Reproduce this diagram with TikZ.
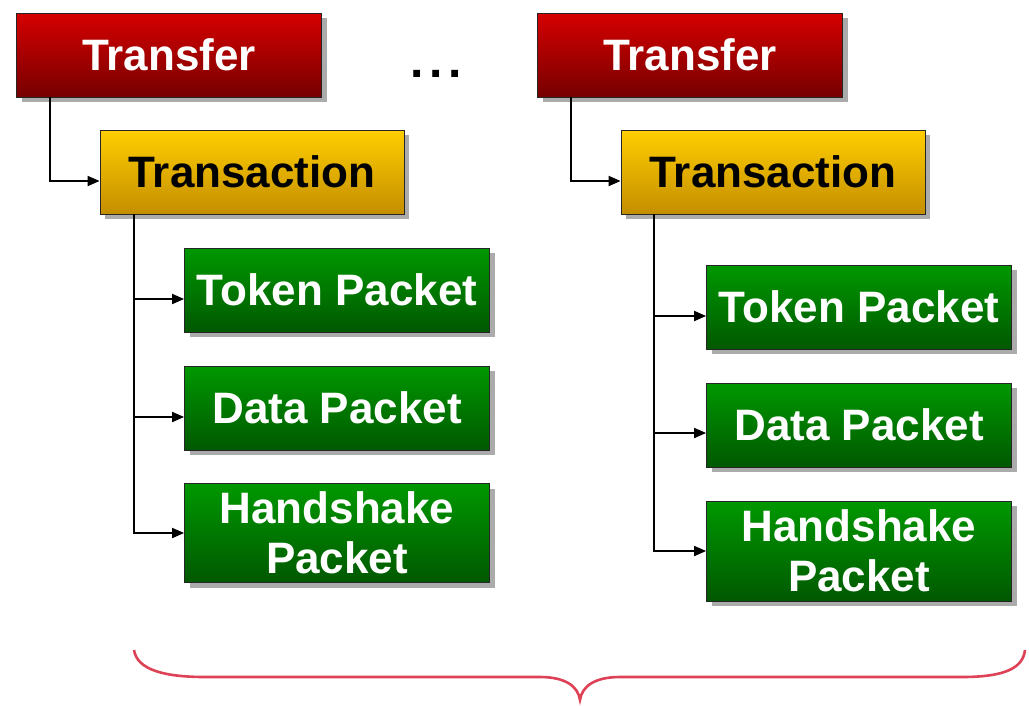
\documentclass[tikz,border=0pt]{standalone}
\usepackage{fontspec}
\setmainfont{Liberation Sans}
\usetikzlibrary{arrows.meta,shadows}
\definecolor{redtop}{RGB}{214,0,0}
\definecolor{redbot}{RGB}{118,0,0}
\definecolor{goldtop}{RGB}{255,206,0}
\definecolor{goldbot}{RGB}{196,142,0}
\definecolor{greentop}{RGB}{0,152,0}
\definecolor{greenbot}{RGB}{0,88,0}
\definecolor{bracered}{RGB}{222,66,86}
\begin{document}
\begin{tikzpicture}[x=1pt,y=-1pt,
	box/.style={draw=black!85,line width=0.8pt,inner sep=0pt,minimum height=84pt,
		font=\fontsize{44}{50}\selectfont\bfseries,
		drop shadow={shadow xshift=5pt,shadow yshift=-5pt,fill=black!55,opacity=0.6}},
	transfer/.style={box,minimum width=305pt,top color=redtop,bottom color=redbot,text=white},
	transaction/.style={box,minimum width=304pt,top color=goldtop,bottom color=goldbot,text=black},
	packet/.style={box,minimum width=305pt,top color=greentop,bottom color=greenbot,text=white,align=center},
	link/.style={line width=1.8pt,-{Triangle[length=12pt,width=10pt]}}]
	\useasboundingbox (0,0) rectangle (1029,705);
	\path
	(169,55) coordinate (tf1)
	(252,172) coordinate (ta1)
	(337,290) coordinate (tk1)
	(337,408) coordinate (dp1)
	(337,533) coordinate (hs1)
	(690,55) coordinate (tf2)
	(773,172) coordinate (ta2)
	(859,307) coordinate (tk2)
	(859,425) coordinate (dp2)
	(859,551) coordinate (hs2)
	;
	\node[transfer] (transfer1) at (tf1) {Transfer};
	\node[transaction] (transaction1) at (ta1) {Transaction};
	\node[packet] (token1) at (tk1) {Token Packet};
	\node[packet] (data1) at (dp1) {Data Packet};
	\node[packet,minimum height=99pt] (hand1) at (hs1) {Handshake\\Packet};
	\node[transfer] (transfer2) at (tf2) {Transfer};
	\node[transaction] (transaction2) at (ta2) {Transaction};
	\node[packet] (token2) at (tk2) {Token Packet};
	\node[packet] (data2) at (dp2) {Data Packet};
	\node[packet,minimum height=100pt] (hand2) at (hs2) {Handshake\\Packet};
	\node[anchor=base,font=\fontsize{48}{50}\selectfont\bfseries] (more) at (436,77) {.\hspace{6pt}.\hspace{6pt}.};
	\draw[link] ([xshift=34pt]transfer1.south west) |- ([yshift=-9pt]transaction1.west);
	\draw[link] ([xshift=34pt]transaction1.south west) |- ([yshift=-9pt]token1.west);
	\draw[link] ([xshift=34pt]transaction1.south west) |- ([yshift=-9pt]data1.west);
	\draw[link] ([xshift=34pt]transaction1.south west) |- (hand1.west);
	\draw[link] ([xshift=34pt]transfer2.south west) |- ([yshift=-9pt]transaction2.west);
	\draw[link] ([xshift=33pt]transaction2.south west) |- ([yshift=-9pt]token2.west);
	\draw[link] ([xshift=33pt]transaction2.south west) |- ([yshift=-8pt]data2.west);
	\draw[link] ([xshift=33pt]transaction2.south west) |- (hand2.west);
	\draw[bracered,line width=2.6pt] (134,650) .. controls (137,670) and (165,677) .. (205,677) -- (540,677)
		.. controls (565,677) and (578,686) .. (580,700) .. controls (582,686) and (595,677) .. (620,677)
		-- (962,677) .. controls (1005,677) and (1023,668) .. (1025,650);
\end{tikzpicture}
\end{document}
